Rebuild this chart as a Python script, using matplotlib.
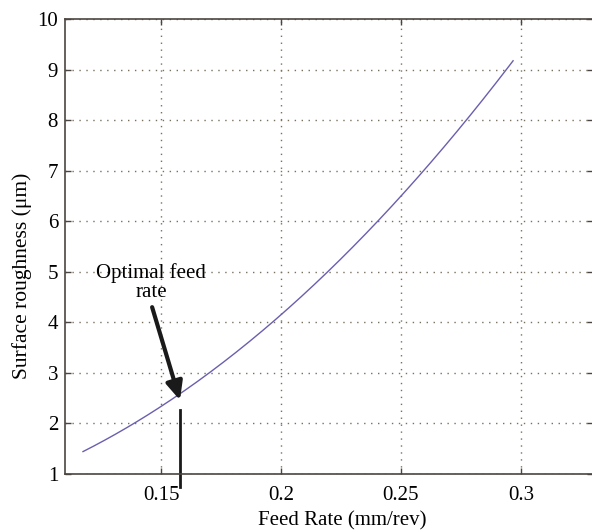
import numpy as np
import matplotlib.pyplot as plt

plt.rcParams['font.family'] = ['Liberation Serif', 'DejaVu Serif']

# values
feed = [0.1175, 0.138, 0.150, 0.170, 0.176, 0.200, 0.2196, 0.2383, 0.250, 0.2592, 0.2779, 0.294, 0.2967]
rough = [1.45, 2.00, 2.32, 3.00, 3.25, 4.00, 5.00, 6.00, 6.55, 7.00, 8.00, 9.00, 9.16]

xticks = [0.15, 0.2, 0.25, 0.3]
xticklabels = ['0.15', '0.2', '0.25', '0.3']
yticks = list(range(1, 11))

opt_feed = 0.158
arrow_tail = (0.1463, 4.30)
arrow_tip = (0.1579, 2.46)

# smooth the read points with a quadratic fit for drawing
coef = np.polyfit(feed, rough, 2)
xs = np.linspace(feed[0], feed[-1], 200)
ys = np.polyval(coef, xs)

fig = plt.figure(figsize=(5.92, 5.31), dpi=100)
ax = fig.add_axes([65 / 592, 57 / 531, 528 / 592, 455 / 531])

ax.plot(xs, ys, color='#6a5fae', lw=1.0)

ax.set_xlim(0.11, 0.33)
ax.set_ylim(1, 10)
ax.set_xticks(xticks)
ax.set_xticklabels(xticklabels)
ax.set_yticks(yticks)
ax.grid(True, linestyle=(0, (1, 4)), color='#7a7060', lw=1.0)
ax.tick_params(direction='in', length=4, width=1, color='#4a4540',
               top=True, right=True, labelsize=15)
ax.tick_params(axis='x', pad=9)
ax.tick_params(axis='y', pad=5)
for s in ax.spines.values():
    s.set_color('#4a4540')
    s.set_linewidth(1.2)

ax.set_xlabel('Feed Rate (mm/rev)', fontsize=15)
ax.xaxis.set_label_coords(0.525, -0.082)
ax.set_ylabel('Surface roughness (μm)', fontsize=15.5, va='center')
ax.yaxis.set_label_coords(-0.0815, 0.435)

# annotation
ax.annotate('', xy=arrow_tip, xytext=arrow_tail,
            arrowprops=dict(arrowstyle='-|>,head_length=1.1,head_width=0.5',
                            color='#1a1a1a', lw=3, shrinkA=0, shrinkB=0))
ax.text(0.1458, 4.78, 'Optimal feed\nrate', ha='center', va='center',
        fontsize=15, linespacing=1.0)
ax.plot([opt_feed, opt_feed], [2.26, 0.74], color='#1a1a1a', lw=2,
        clip_on=False)

plt.savefig('out.png', dpi=100)
